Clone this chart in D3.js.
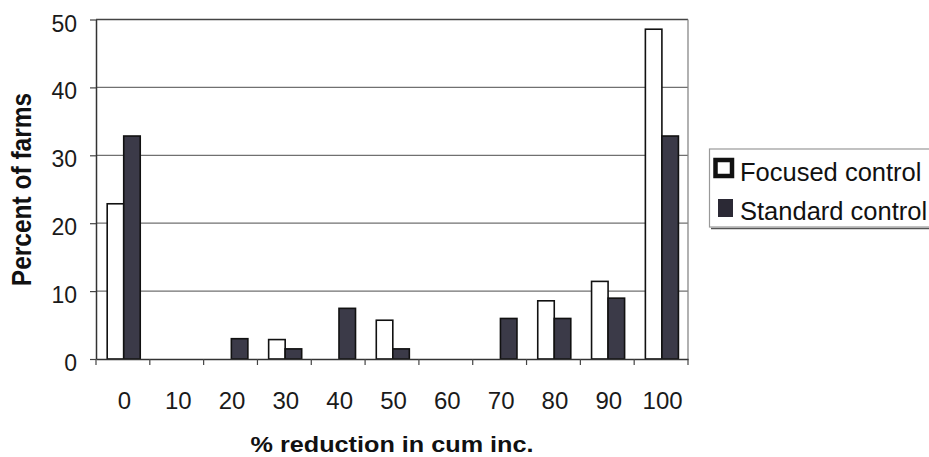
<!DOCTYPE html>
<html>
<head>
<meta charset="utf-8">
<script src="https://cdn.jsdelivr.net/npm/d3@7"></script>
<style>
  html, body { margin: 0; padding: 0; background: #fff; }
  svg { display: block; font-family: "Liberation Sans", Arial, Helvetica, sans-serif; }
</style>
</head>
<body>
<svg id="chart" width="929" height="457"></svg>
<script>
// ---- data ----
const categories = ["0", "10", "20", "30", "40", "50", "60", "70", "80", "90", "100"];
const seriesNames = ["Focused control", "Standard control"];
const focusedValues = [22.86, 0, 0, 2.86, 0, 5.71, 0, 0, 8.57, 11.43, 48.57];
const standardValues = [32.84, 0, 2.99, 1.49, 7.46, 1.49, 0, 5.97, 5.97, 8.96, 32.84];
const yTickValues = [0, 10, 20, 30, 40, 50];
const xTitle = "% reduction in cum inc.";
const yTitle = "Percent of farms";

// ---- layout ----
const svg = d3.select("#chart");
const W = 929, H = 457;
const plot = { left: 96, right: 688, top: 19.5, bottom: 359 };

svg.append("rect").attr("width", W).attr("height", H).attr("fill", "#fff");

const x = d3.scaleBand().domain(categories).range([plot.left, plot.right]).padding(0);
const bw = x.bandwidth();
const x1 = d3.scaleBand().domain(seriesNames).range([bw * 0.208, bw * 0.822]).padding(0);
const y = d3.scaleLinear().domain([0, 50]).range([plot.bottom, plot.top]);

const colors = { "Focused control": "#ffffff", "Standard control": "#3b3a48" };

// gridlines
svg.append("g").selectAll("line")
  .data(yTickValues.filter(d => d > 0))
  .join("line")
  .attr("x1", plot.left).attr("x2", plot.right)
  .attr("y1", d => y(d)).attr("y2", d => y(d))
  .attr("stroke", d => d === 50 ? "#444" : "#707070")
  .attr("stroke-width", 1.3);

// right border
svg.append("line")
  .attr("x1", plot.right).attr("x2", plot.right)
  .attr("y1", y(50)).attr("y2", y(0))
  .attr("stroke", "#888").attr("stroke-width", 1.3);

// bars
const rows = categories.map((c, i) => ({
  cat: c,
  vals: [
    { s: seriesNames[0], v: focusedValues[i] },
    { s: seriesNames[1], v: standardValues[i] }
  ]
}));

const groups = svg.append("g").selectAll("g")
  .data(rows).join("g")
  .attr("transform", d => `translate(${x(d.cat)},0)`);

groups.selectAll("rect")
  .data(d => d.vals.filter(e => e.v > 0))
  .join("rect")
  .attr("x", d => x1(d.s))
  .attr("width", x1.bandwidth())
  .attr("y", d => y(d.v))
  .attr("height", d => y(0) - y(d.v))
  .attr("fill", d => colors[d.s])
  .attr("stroke", "#111")
  .attr("stroke-width", 1.6);

// y axis
const yAxis = svg.append("g")
  .attr("transform", `translate(${plot.left},0)`)
  .call(d3.axisLeft(y).tickValues(yTickValues).tickSize(6).tickPadding(13).tickSizeOuter(0));
yAxis.select(".domain").attr("stroke", "#333").attr("stroke-width", 1.5);
yAxis.selectAll(".tick line").attr("stroke", "#444").attr("stroke-width", 1.2);
yAxis.selectAll(".tick text")
  .attr("font-size", 23)
  .attr("font-family", "'Liberation Sans', Arial, sans-serif")
  .attr("fill", "#1a1a1a")
  .attr("dy", "0.5em");

// x axis
const xAxis = svg.append("g")
  .attr("transform", `translate(0,${plot.bottom})`)
  .call(d3.axisBottom(x).tickSize(0).tickPadding(0));
xAxis.select(".domain").attr("stroke", "#333").attr("stroke-width", 1.5);
xAxis.selectAll(".tick text")
  .attr("font-size", 24)
  .attr("font-family", "'Liberation Sans', Arial, sans-serif")
  .attr("fill", "#1a1a1a")
  .attr("dx", 1.5)
  .attr("y", 50)
  .attr("dy", 0);

// boundary tick marks
const boundaries = categories.map(c => x(c)).concat([x(categories[categories.length - 1]) + bw]);
svg.append("g").selectAll("line")
  .data(boundaries).join("line")
  .attr("x1", d => d).attr("x2", d => d)
  .attr("y1", plot.bottom).attr("y2", plot.bottom + 6)
  .attr("stroke", "#444").attr("stroke-width", 1.2);

// axis titles
svg.append("text")
  .attr("x", (plot.left + plot.right) / 2)
  .attr("y", 452)
  .attr("text-anchor", "middle")
  .attr("font-size", 22.5)
  .attr("font-weight", "bold")
  .attr("fill", "#111")
  .attr("textLength", 283)
  .attr("lengthAdjust", "spacingAndGlyphs")
  .text(xTitle);

svg.append("text")
  .attr("transform", `translate(31,${(92 + 287) / 2}) scale(1.12,1) rotate(-90)`)
  .attr("text-anchor", "middle")
  .attr("font-size", 24.5)
  .attr("font-weight", "bold")
  .attr("fill", "#111")
  .text(yTitle);

// legend
const lg = svg.append("g");
lg.append("line")
  .attr("x1", 711).attr("x2", 935).attr("y1", 228.5).attr("y2", 228.5)
  .attr("stroke", "#555").attr("stroke-width", 1.5);
lg.append("rect")
  .attr("x", 709.5).attr("y", 149).attr("width", 240).attr("height", 78)
  .attr("fill", "#fff").attr("stroke", "#999").attr("stroke-width", 1.2);

const legendRows = lg.selectAll("g.item")
  .data(seriesNames).join("g").attr("class", "item")
  .attr("transform", (d, i) => `translate(0,${i * 39.5})`);

legendRows.append("rect")
  .attr("x", d => d === seriesNames[0] ? 715.5 : 718)
  .attr("y", d => d === seriesNames[0] ? 160 : 159.5)
  .attr("width", d => d === seriesNames[0] ? 16.5 : 15)
  .attr("height", d => d === seriesNames[0] ? 16 : 18)
  .attr("fill", d => d === seriesNames[0] ? "#fff" : "#2b2935")
  .attr("stroke", d => d === seriesNames[0] ? "#111" : "none")
  .attr("stroke-width", 4.5);

legendRows.append("text")
  .attr("x", 740)
  .attr("y", 180.5)
  .attr("font-size", 25.5)
  .attr("fill", "#111")
  .text(d => d);
</script>
</body>
</html>
